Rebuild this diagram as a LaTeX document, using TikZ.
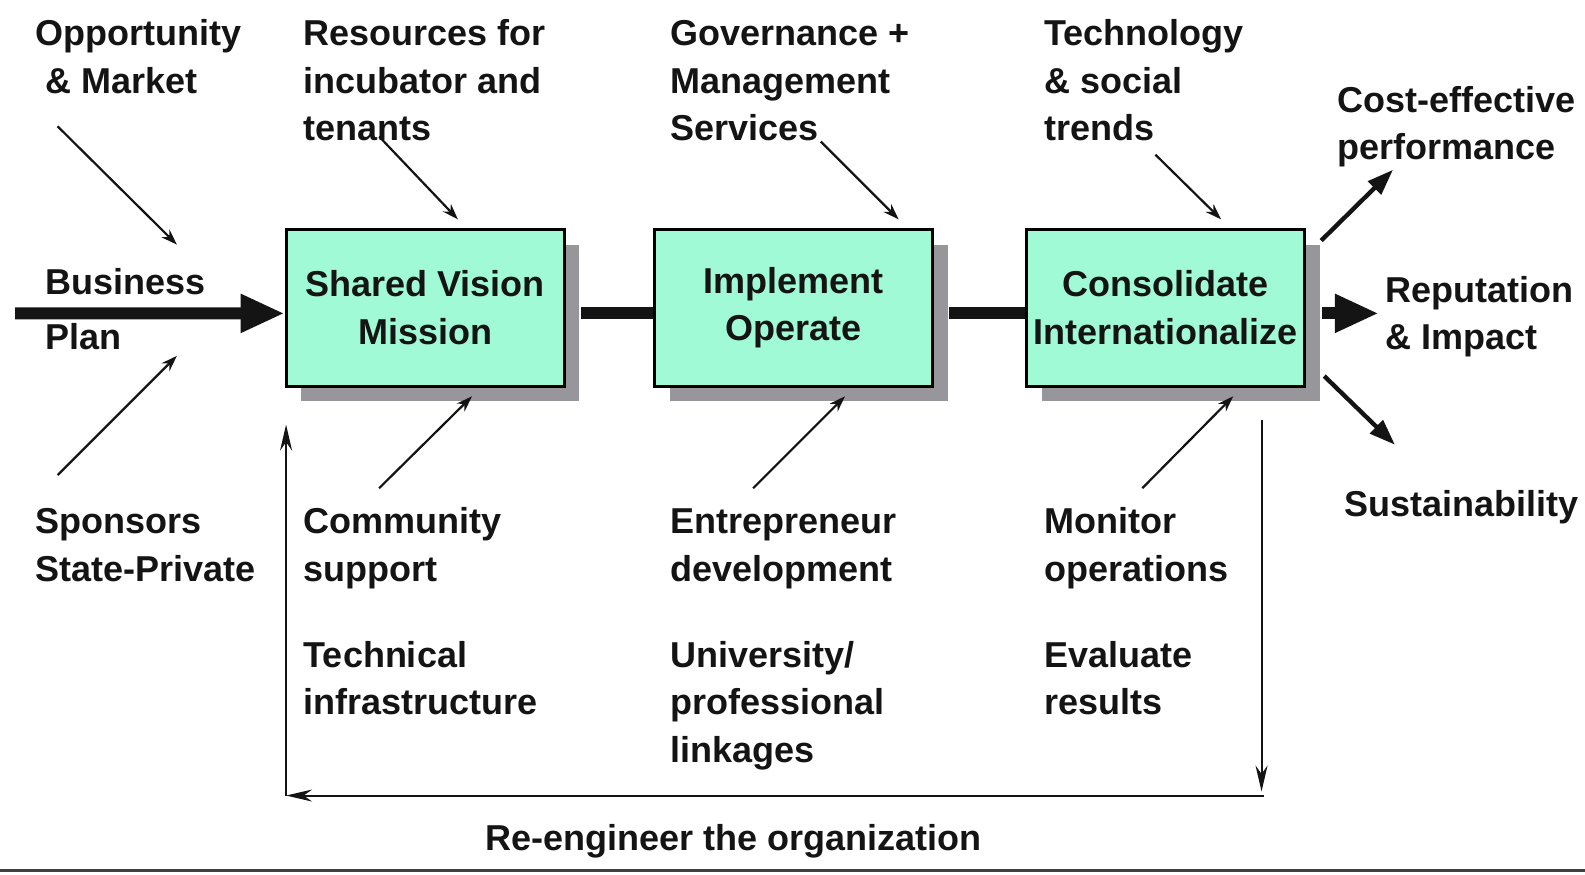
\documentclass[tikz,border=0pt]{standalone}
\usepackage{fontspec}
\setmainfont{Liberation Sans}
\usetikzlibrary{arrows.meta,shadows}
\definecolor{boxfill}{RGB}{160,250,214}
\definecolor{shade}{RGB}{150,150,155}
\definecolor{ink}{RGB}{20,20,20}
\begin{document}
\begin{tikzpicture}[x=0.5055pt,y=-0.5055pt,
  txt/.style={font=\fontsize{18pt}{23.76pt}\selectfont\bfseries, text=ink},
  lbl/.style={txt, anchor=base west, inner sep=0pt, align=left},
  box/.style={txt, draw=black, line width=1.5pt, fill=boxfill, minimum width=139pt, minimum height=78.4pt,
    align=center, inner sep=0pt,
    drop shadow={shadow xshift=7.6pt, shadow yshift=-7.6pt, fill=shade, opacity=1}},
  thin/.style={line width=1.1pt, ink, -{Stealth[length=8pt,width=5.5pt]}},
  big/.style={line width=6pt, ink, -{Triangle[length=22pt,width=18pt]}},
  bar/.style={line width=6pt, ink},
  mid/.style={line width=2.2pt, ink, -{Triangle[length=13pt,width=9pt]}},
  fb/.style={line width=1pt, ink, -{Stealth[length=13pt,width=6pt]}}
]
\useasboundingbox (0,0) rectangle (1568,865);

% boxes
\node[box] (b1) at (420.5,304.5) {Shared Vision\\Mission};
\node[box] (b2) at (785,304.5) {Implement\\Operate};
\node[box] (b3) at (1153,304.5) {Consolidate\\Internationalize};

% labels (anchor = baseline of the last line)
\node[lbl] (opp) at (35,92) {Opportunity\\\hspace{5pt}\& Market};
\node[lbl] (res) at (300,139) {Resources for\\incubator and\\tenants};
\node[lbl] (gov) at (663,139) {Governance +\\Management\\Services};
\node[lbl] (tec) at (1033,139) {Technology\\\& social\\trends};
\node[lbl] (cost) at (1323,158) {Cost-effective\\performance};
\node[lbl] (bus) at (45,346) {Business\\[4pt]Plan};
\node[lbl] (rep) at (1370,346) {Reputation\\\& Impact};
\node[lbl] (spo) at (35,575) {Sponsors\\State-Private};
\node[lbl] (com) at (300,575) {Community\\support};
\node[lbl] (tin) at (300,707) {Technical\\infrastructure};
\node[lbl] (ent) at (663,575) {Entrepreneur\\development};
\node[lbl] (uni) at (663,754) {University/\\professional\\linkages};
\node[lbl] (mon) at (1033,575) {Monitor\\operations};
\node[lbl] (eva) at (1033,707) {Evaluate\\results};
\node[lbl] (sus) at (1330,511) {Sustainability};
\node[lbl] (reeng) at (480,841) {Re-engineer the organization};

% thin input arrows
\coordinate (oppA) at (57,125);   \coordinate (oppB) at (175,242);
\coordinate (spoA) at (57,470);   \coordinate (spoB) at (175,352);
\coordinate (resA) at (375,135);  \coordinate (resB) at (453,217);
\coordinate (comA) at (375,483);  \coordinate (comB) at (467,392);
\coordinate (govA) at (812,140);  \coordinate (govB) at (889,217);
\coordinate (entA) at (745,483);  \coordinate (entB) at (836,392);
\coordinate (tecA) at (1143,153); \coordinate (tecB) at (1208,217);
\coordinate (monA) at (1130,483); \coordinate (monB) at (1220,392);
\draw[thin] (oppA) -- (oppB);
\draw[thin] (spoA) -- (spoB);
\draw[thin] (resA) -- (resB);
\draw[thin] (comA) -- (comB);
\draw[thin] (govA) -- (govB);
\draw[thin] (entA) -- (entB);
\draw[thin] (tecA) -- (tecB);
\draw[thin] (monA) -- (monB);

% main flow
\coordinate (start) at (15,310);
\draw[big] (start) -- ([yshift=-2.8pt]b1.west);
\draw[bar] ([xshift=7.6pt,yshift=-2.8pt]b1.east) -- ([yshift=-2.8pt]b2.west);
\draw[bar] ([xshift=7.6pt,yshift=-2.8pt]b2.east) -- ([yshift=-2.8pt]b3.west);
\coordinate (outS) at (1308,310); \coordinate (outE) at (1364,310);
\draw[big] (outS) -- (outE);
\coordinate (upS) at (1307,238);  \coordinate (upE) at (1378,168);
\draw[mid] (upS) -- (upE);
\coordinate (dnS) at (1310,372);  \coordinate (dnE) at (1380,440);
\draw[mid] (dnS) -- (dnE);

% feedback loop
\coordinate (fbTop) at (1248,415);
\coordinate (fbDown) at (1248,783);
\coordinate (fbCorner) at (1250,787);
\coordinate (fbLeft) at (283,787);
\coordinate (fbUp) at (283,420);
\draw[fb] (fbTop) -- (fbDown);
\draw[fb] (fbCorner) -- (fbLeft);
\draw[fb] (fbLeft) -- (fbUp);

% bottom rule
\coordinate (ruleL) at (0,861); \coordinate (ruleR) at (1568,861);
\draw[line width=1.6pt, black!75] (ruleL) -- (ruleR);
\end{tikzpicture}
\end{document}
